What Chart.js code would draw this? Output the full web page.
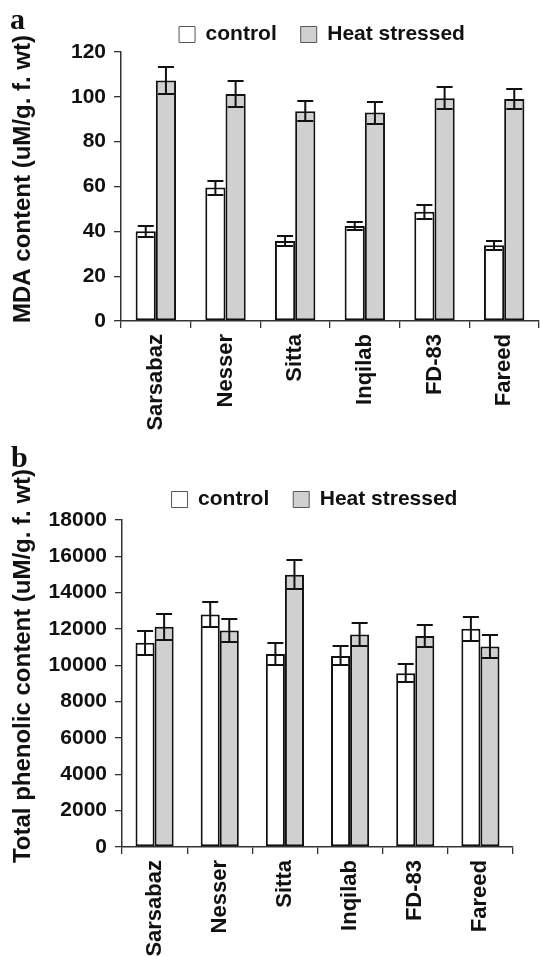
<!DOCTYPE html>
<html><head><meta charset="utf-8">
<script src="https://cdn.jsdelivr.net/npm/chart.js@4.4.1/dist/chart.umd.min.js"></script>
<style>
html,body{margin:0;padding:0;background:#fff;}
body{width:540px;height:956px;position:relative;overflow:hidden;}
.panel{position:absolute;left:0;width:540px;}
#wa{top:0;height:445px;}
#wb{top:445px;height:511px;}
.lbl{position:absolute;font-family:'Liberation Serif','Times New Roman',serif;font-weight:bold;font-size:30px;line-height:30px;color:#111;z-index:2;}
</style></head><body>
<div class="panel" id="wa"><canvas id="ca" width="540" height="445"></canvas></div>
<div class="panel" id="wb"><canvas id="cb" width="540" height="511"></canvas></div>
<div class="lbl" style="left:10px;top:4px">a</div>
<div class="lbl" style="left:11px;top:442px">b</div>
<script>
// ---- data ----
const categories = ['Sarsabaz', 'Nesser', 'Sitta', 'Inqilab', 'FD-83', 'Fareed'];
const seriesNames = ['control', 'Heat stressed'];

const mdaControl    = [40.0, 59.5, 35.7, 42.4, 48.7, 33.8];
const mdaControlErr = [2.4, 3.1, 2.2, 1.6, 3.1, 2.0];
const mdaHeat       = [107.3, 101.3, 93.6, 93.0, 99.4, 99.0];
const mdaHeatErr    = [6.0, 5.8, 4.4, 4.9, 4.8, 4.5];
const mdaTicks      = [0, 20, 40, 60, 80, 100, 120];

const phenControl    = [11240, 12800, 10620, 10520, 9570, 12010];
const phenControlErr = [660, 700, 600, 520, 510, 650];
const phenHeat       = [12120, 11920, 14990, 11700, 11610, 11040];
const phenHeatErr    = [700, 620, 800, 640, 590, 610];
const phenTicks      = [0, 2000, 4000, 6000, 8000, 10000, 12000, 14000, 16000, 18000];

const titleA = 'MDA content (uM/g. f. wt)';
const titleB = 'Total phenolic content (uM/g. f. wt)';

// ---- styling ----
const FONT = "'Liberation Sans', Arial, Helvetica, sans-serif";
Chart.defaults.font.family = FONT;
Chart.defaults.font.weight = 'bold';
Chart.defaults.color = '#111';
const INK = '#111';
const AXIS = '#333';

function errorBarPlugin(errs, capHalf) {
  return {
    id: 'errbars',
    afterDatasetsDraw(chart) {
      const ctx = chart.ctx, y = chart.scales.y;
      ctx.save();
      ctx.strokeStyle = INK; ctx.lineWidth = 2; ctx.lineCap = 'butt';
      chart.data.datasets.forEach((ds, i) => {
        const meta = chart.getDatasetMeta(i);
        meta.data.forEach((bar, j) => {
          const v = ds.data[j], e = errs[i][j];
          const yt = Math.round(y.getPixelForValue(v + e)), yb = Math.round(y.getPixelForValue(v - e));
          const x = bar.x;
          ctx.beginPath();
          ctx.moveTo(x, yt); ctx.lineTo(x, yb);
          ctx.moveTo(x - capHalf, yt); ctx.lineTo(x + capHalf, yt);
          ctx.moveTo(x - capHalf, yb); ctx.lineTo(x + capHalf, yb);
          ctx.stroke();
        });
      });
      ctx.restore();
    }
  };
}

function yTitlePlugin(text, x, yc, size) {
  return {
    id: 'ytitle',
    afterDraw(chart) {
      const ctx = chart.ctx;
      ctx.save();
      ctx.translate(x, yc);
      ctx.rotate(-Math.PI / 2);
      ctx.font = 'bold ' + size + 'px ' + FONT;
      ctx.fillStyle = INK;
      ctx.textAlign = 'center';
      ctx.textBaseline = 'middle';
      ctx.fillText(text, 0, 0);
      ctx.restore();
    }
  };
}

function legendBoxPlugin(h, dx) {
  return {
    id: 'legendbox',
    beforeLayout(chart) {
      const lg = chart.legend;
      if (lg && !lg._patchedFit) {
        const f = lg.fit;
        lg.fit = function () { f.call(this); this.height = h; };
        lg._patchedFit = true;
      }
    },
    afterLayout(chart) {
      const lg = chart.legend;
      if (lg) { lg.left += dx; lg.right += dx; }
    }
  };
}

function makeChart(canvasId, ctrl, heat, errs, ticks, yMax, cfg) {
  return new Chart(document.getElementById(canvasId), {
    type: 'bar',
    data: {
      labels: categories,
      datasets: [
        { label: seriesNames[0], data: ctrl, backgroundColor: '#ffffff', borderColor: INK, borderWidth: 2, borderSkipped: false,
          categoryPercentage: cfg.catPct, barPercentage: 1 },
        { label: seriesNames[1], data: heat, backgroundColor: '#d0d0d0', borderColor: INK, borderWidth: 2, borderSkipped: false,
          categoryPercentage: cfg.catPct, barPercentage: 1 }
      ]
    },
    options: {
      responsive: false,
      animation: false,
      layout: { padding: cfg.padding },
      plugins: {
        tooltip: { enabled: false },
        legend: {
          position: 'top',
          fullSize: false,
          labels: {
            boxWidth: 16, boxHeight: 16, padding: 24,
            font: { size: 21, weight: 'bold', family: FONT },
            color: INK,
            generateLabels(chart) {
              return chart.data.datasets.map((ds, i) => ({
                text: ds.label, fillStyle: ds.backgroundColor, strokeStyle: '#555',
                lineWidth: 1, hidden: false, datasetIndex: i, fontColor: INK
              }));
            }
          }
        }
      },
      scales: {
        x: {
          offset: true,
          grid: { offset: true, drawOnChartArea: false, tickLength: 7, color: AXIS, lineWidth: 1.3 },
          border: { color: AXIS, width: 1.5 },
          ticks: { minRotation: 90, maxRotation: 90, autoSkip: false, padding: 6,
                   font: { size: 22, weight: 'bold', family: FONT }, color: INK },
          afterFit(s) { s.height = cfg.xHeight; }
        },
        y: {
          min: 0, max: yMax,
          grid: { drawOnChartArea: false, tickLength: 7, color: AXIS, lineWidth: 1.3 },
          border: { color: AXIS, width: 1.5 },
          ticks: { padding: 8, font: { size: 21, weight: 'bold', family: FONT }, color: INK,
                   callback: v => String(v) },
          afterBuildTicks(s) { s.ticks = ticks.map(v => ({ value: v })); },
          afterFit(s) { s.width = cfg.yWidth; }
        }
      }
    },
    plugins: [errorBarPlugin(errs, 8), yTitlePlugin(cfg.title, cfg.titleX, cfg.titleY, 24), legendBoxPlugin(cfg.legendH, cfg.legendDx)]
  });
}

makeChart('ca', mdaControl, mdaHeat, [mdaControlErr, mdaHeatErr], mdaTicks, 120, {
  catPct: 0.58, padding: { top: 0, left: 0, right: 1, bottom: 0 },
  xHeight: 124, yWidth: 121, legendH: 52, legendDx: -8,
  title: titleA, titleX: 23, titleY: 179
});
makeChart('cb', phenControl, phenHeat, [phenControlErr, phenHeatErr], phenTicks, 18000, {
  catPct: 0.585, padding: { top: 20, left: 0, right: 27, bottom: 0 },
  xHeight: 109, yWidth: 122, legendH: 55, legendDx: -3,
  title: titleB, titleX: 23, titleY: 221
});
</script>
</body></html>
